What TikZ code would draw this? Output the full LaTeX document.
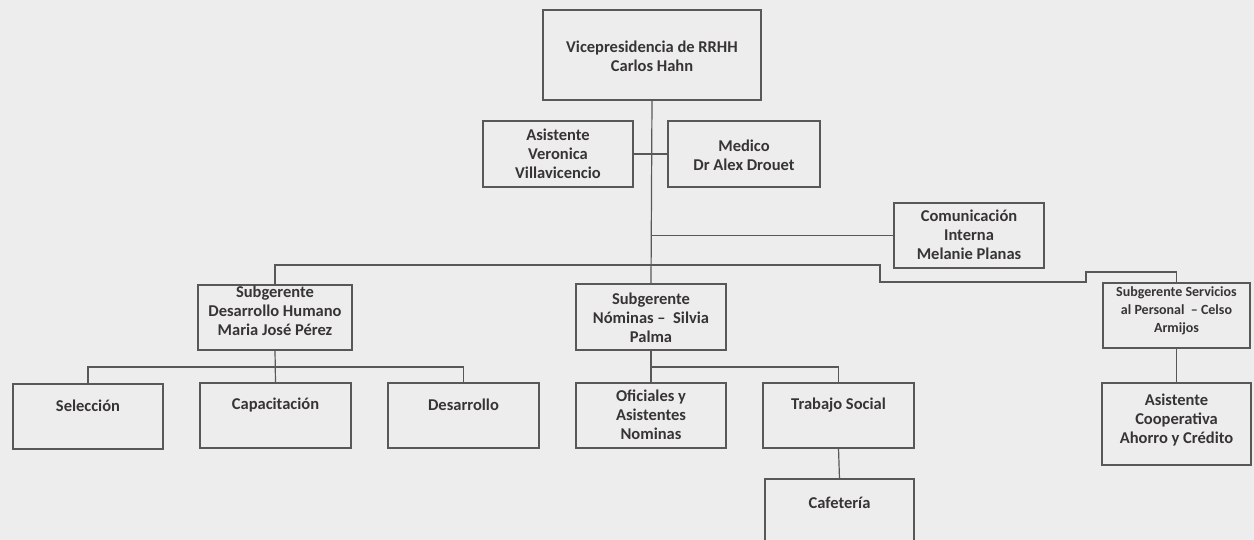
\documentclass[tikz,border=0pt]{standalone}
\usepackage{fontspec}
\setmainfont{Carlito}
\definecolor{paper}{RGB}{238,237,237}
\definecolor{ink}{RGB}{55,52,52}
\definecolor{wire}{RGB}{90,87,87}
\begin{document}
\begin{tikzpicture}[x=1pt,y=-1pt,
  box/.style={draw=wire,line width=1.2pt,inner sep=0pt,outer sep=0pt},
  txt/.style={text=ink,font=\bfseries\fontsize{16.5}{19}\selectfont,align=center,inner sep=0pt},
  small/.style={text=ink,font=\bfseries\fontsize{14}{18}\selectfont,align=center,inner sep=0pt},
  link/.style={draw=wire,line width=1.2pt}]
% canvas
\fill[paper] (0,0) rectangle (1254,540);
\useasboundingbox (0,0) rectangle (1254,540);
\clip (0,0) rectangle (1254,540);

% boxes (centre, size)
\node[box,minimum width=218,minimum height=90] (vp)   at (652,55)    {};
\node[box,minimum width=150,minimum height=66] (asis) at (558,154)   {};
\node[box,minimum width=152,minimum height=66] (med)  at (744,154)   {};
\node[box,minimum width=150,minimum height=65] (comm) at (969,235.5) {};
\node[box,minimum width=154,minimum height=65] (subdh) at (275,317.5) {};
\node[box,minimum width=150,minimum height=66] (subnom) at (651,317) {};
\node[box,minimum width=147,minimum height=65] (serv) at (1176.5,315.5) {};
\node[box,minimum width=150,minimum height=65] (sel)  at (88,416.5)  {};
\node[box,minimum width=151,minimum height=65] (cap)  at (275.5,415.5) {};
\node[box,minimum width=151,minimum height=65] (des)  at (463.5,415.5) {};
\node[box,minimum width=150,minimum height=65] (ofi)  at (651,415.5) {};
\node[box,minimum width=151,minimum height=65] (ts)   at (838.5,415.5) {};
\node[box,minimum width=149,minimum height=72] (caf)  at (839.5,515) {};
\node[box,minimum width=149,minimum height=82] (coop) at (1176.5,424) {};

% texts
\node[txt] (vp-t)    at (652,56)   {Vicepresidencia de RRHH\\Carlos Hahn};
\node[txt] (asis-t)  at (558,154)  {Asistente\\Veronica\\Villavicencio};
\node[txt] (med-t)   at (744,155)  {Medico\\Dr Alex Drouet};
\node[txt] (comm-t)  at (969,235)  {Comunicación\\Interna\\Melanie Planas};
\node[txt] (subdh-t) at (275,311)  {Subgerente\\Desarrollo Humano\\Maria José Pérez};
\node[txt] (subnom-t) at (651,318) {Subgerente\\Nóminas –\ \ Silvia\\Palma};
\node[small] (serv-t) at (1176.5,311) {Subgerente Servicios\\al Personal\ \ – Celso\\Armijos};
\node[txt] (sel-t)   at (88,406)   {Selección};
\node[txt] (cap-t)   at (275.5,405) {Capacitación};
\node[txt] (des-t)   at (463.5,405) {Desarrollo};
\node[txt] (ofi-t)   at (651,415)  {Oficiales y\\Asistentes\\Nominas};
\node[txt] (ts-t)    at (838.5,405) {Trabajo Social};
\node[txt] (caf-t)   at (839.5,503) {Cafetería};
\node[txt] (coop-t)  at (1176.5,420) {Asistente\\Cooperativa\\Ahorro y Crédito};

% bends and bus levels
\coordinate (j1) at (880,265);
\coordinate (j2) at (880,282);
\coordinate (j3) at (1086,282);
\coordinate (j4) at (1086,272);
\coordinate (busL) at (275,367);
\coordinate (busR) at (651,367);

% connectors
\draw[link] (vp.south) -- (subnom.north);
\draw[link] (asis.east) -- (med.west);
\draw[link] (comm.west) -- (comm.west -| vp.south);
\draw[link] (subdh.north) |- (j1) -- (j2) -- (j3) -- (j4) -| (serv.north);
\draw[link] (subdh.south) -- (cap.north);
\draw[link] (sel.north) |- (busL) -| (des.north);
\draw[link] (subnom.south) -- (ofi.north);
\draw[link] (busR) -| (ts.north);
\draw[link] (ts.south) -- (caf.north);
\draw[link] (serv.south) -- (coop.north);
\end{tikzpicture}
\end{document}
